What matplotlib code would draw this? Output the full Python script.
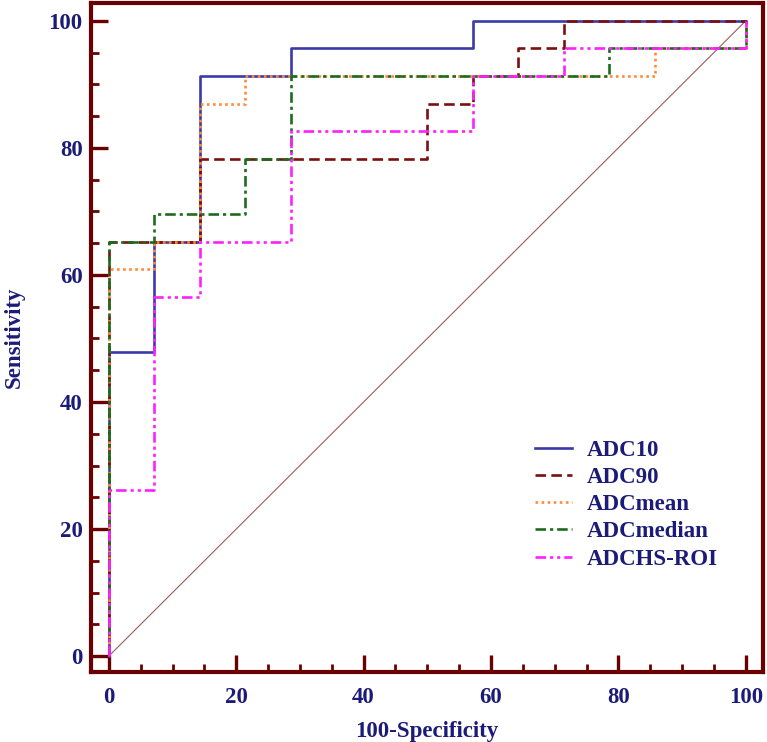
import numpy as np
import matplotlib.pyplot as plt
from matplotlib.ticker import MultipleLocator

# ROC operating points as counts (14 negatives, 23 positives)
n_neg = 14
n_pos = 23

adc10_fp = [0, 1, 2, 4, 8, 14]
adc10_tp = [0, 11, 15, 21, 22, 23]

adc90_fp = [0, 2, 7, 8, 9, 10, 14]
adc90_tp = [0, 15, 18, 20, 21, 22, 23]

adcmean_fp = [0, 1, 2, 3, 12, 14, 14]
adcmean_tp = [0, 14, 15, 20, 21, 22, 23]

adcmedian_fp = [0, 1, 3, 4, 11, 14, 14]
adcmedian_tp = [0, 15, 16, 18, 21, 22, 23]

adchs_fp = [0, 1, 2, 4, 8, 10, 14, 14]
adchs_tp = [0, 6, 13, 15, 19, 21, 22, 23]

labels = ['ADC10', 'ADC90', 'ADCmean', 'ADCmedian', 'ADCHS-ROI']

frame_col = '#6b0000'
text_col = '#1c1c78'

plt.rcParams['font.family'] = ['Liberation Serif', 'DejaVu Serif']
plt.rcParams['font.weight'] = 'bold'

fig = plt.figure(figsize=(7.67, 7.42), dpi=100)
ax = fig.add_axes([0.1186, 0.0943, 0.8762, 0.9017])

# diagonal reference line
ax.plot([0, 100], [0, 100], color='#a05a5a', lw=0.8, zorder=1)

styles = [
    dict(color='#3a3aa8', ls='-'),
    dict(color='#7a1010', ls=(0, (4, 2))),
    dict(color='#ff8a3a', ls=(0, (1, 1.3))),
    dict(color='#1d6b1d', ls=(0, (4, 1.5, 1.2, 1.5))),
    dict(color='#ff20ff', ls=(0, (4, 1.5, 1.2, 1.5, 1.2, 1.5))),
]
curves = [(adc10_fp, adc10_tp), (adc90_fp, adc90_tp), (adcmean_fp, adcmean_tp),
          (adcmedian_fp, adcmedian_tp), (adchs_fp, adchs_tp)]

for (fp, tp), st, lab in zip(curves, styles, labels):
    x = np.array(fp) * 100.0 / n_neg
    y = np.array(tp) * 100.0 / n_pos
    ax.plot(x, y, drawstyle='steps-pre', lw=1.9, label=lab, zorder=3, **st)

ax.set_xlim(-2.8, 102.7)
ax.set_ylim(-2.5, 102.8)

for s in ax.spines.values():
    s.set_color(frame_col)
    s.set_linewidth(3)

ax.xaxis.set_major_locator(MultipleLocator(20))
ax.xaxis.set_minor_locator(MultipleLocator(5))
ax.yaxis.set_major_locator(MultipleLocator(20))
ax.yaxis.set_minor_locator(MultipleLocator(5))
ax.tick_params(which='major', direction='in', length=12, width=2.4, color=frame_col,
               labelsize=16.5, labelcolor=text_col, pad=6)
ax.tick_params(which='minor', direction='in', length=6, width=2.0, color=frame_col)
ax.tick_params(axis='x', pad=11)
ax.tick_params(which='both', top=False, right=False)

ax.set_xlabel('100-Specificity', fontsize=16.5, color=text_col, fontweight='bold', labelpad=9)
ax.set_ylabel('Sensitivity', fontsize=16.5, color=text_col, fontweight='bold', labelpad=17)

leg = ax.legend(loc='center left', bbox_to_anchor=(0.698, 0.320), bbox_transform=fig.transFigure,
                frameon=False, fontsize=16.5, handlelength=1.6, handletextpad=0.65,
                labelspacing=0.27, borderpad=0, borderaxespad=0)
for t in leg.get_texts():
    t.set_color(text_col)
    t.set_fontweight('bold')

fig.savefig('out.png', dpi=100)
